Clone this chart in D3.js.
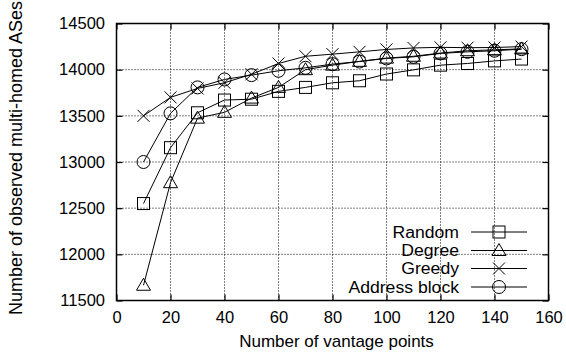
<!DOCTYPE html>
<html>
<head>
<meta charset="utf-8">
<script src="https://cdn.jsdelivr.net/npm/d3@7"></script>
<style>
  html, body { margin: 0; padding: 0; background: #fff; }
  svg { display: block; font-family: "Liberation Sans", Arial, Helvetica, sans-serif; }
</style>
</head>
<body>
<svg id="chart" width="566" height="360"></svg>
<script>
// Vantage point counts (x) and observed multi-homed AS counts per selection strategy
const vantagePoints = [10, 20, 30, 40, 50, 60, 70, 80, 90, 100, 110, 120, 130, 140, 150];
const randomVals  = [12550, 13155, 13533, 13671, 13680, 13765, 13808, 13858, 13880, 13953, 13998, 14049, 14067, 14095, 14115];
const degreeVals  = [11665, 12776, 13475, 13538, 13692, 13808, 14000, 14049, 14090, 14125, 14145, 14180, 14205, 14215, 14225];
const greedyVals  = [13500, 13700, 13797, 13858, 13950, 14067, 14145, 14168, 14193, 14219, 14235, 14242, 14238, 14240, 14250];
const addressVals = [13000, 13527, 13808, 13894, 13941, 13988, 14020, 14060, 14088, 14122, 14139, 14176, 14193, 14205, 14222];

const seriesNames = ["Random", "Degree", "Greedy", "Address block"];
const seriesShapes = ["square", "triangle", "cross", "circle"];
const seriesValues = [randomVals, degreeVals, greedyVals, addressVals];

const xTicks = [0, 20, 40, 60, 80, 100, 120, 140, 160];
const yTicks = [11500, 12000, 12500, 13000, 13500, 14000, 14500];

const svg = d3.select("#chart");
const margin = { left: 116.5, right: 566 - 548.5, top: 23.5, bottom: 360 - 300.5 };
const W = 566, H = 360;

const x = d3.scaleLinear().domain([0, 160]).range([margin.left, W - margin.right]);
const y = d3.scaleLinear().domain([11500, 14500]).range([H - margin.bottom, margin.top]);

const tickFont = 16.5;
const titleFont = 17;
const yTitleFont = 18;
const legendFont = 16;
const legendStretch = 1.1;

// Dotted grid
const grid = svg.append("g");
grid.selectAll("line.gx").data(xTicks.slice(1, -1)).join("line")
  .attr("x1", d => x(d)).attr("x2", d => x(d))
  .attr("y1", y.range()[0]).attr("y2", y.range()[1])
  .attr("stroke", "#000").attr("stroke-width", 1).attr("stroke-dasharray", "1,2");
grid.selectAll("line.gy").data(yTicks.slice(1, -1)).join("line")
  .attr("y1", d => y(d)).attr("y2", d => y(d))
  .attr("x1", x.range()[0]).attr("x2", x.range()[1])
  .attr("stroke", "#000").attr("stroke-width", 1).attr("stroke-dasharray", "1,2");

// Axes with inward ticks, mirrored on top and right
const tickLen = 6;
const bottomAxis = d3.axisBottom(x).tickValues(xTicks).tickSize(-tickLen).tickPadding(11).tickFormat(d3.format("d"));
const topAxis = d3.axisTop(x).tickValues(xTicks).tickSize(-tickLen).tickFormat("");
const leftAxis = d3.axisLeft(y).tickValues(yTicks).tickSize(-tickLen).tickPadding(11.5).tickFormat(d3.format("d"));
const rightAxis = d3.axisRight(y).tickValues(yTicks).tickSize(-tickLen).tickFormat("");

function styleAxis(g) {
  g.select(".domain").remove();
  g.selectAll(".tick line").attr("stroke", "#000").attr("stroke-width", 1.2);
  g.selectAll(".tick text").attr("font-size", tickFont).attr("fill", "#000")
    .attr("font-family", "Liberation Sans, Arial, sans-serif");
}
svg.append("g").attr("transform", `translate(0,${y.range()[0]})`).call(bottomAxis).call(styleAxis);
svg.append("g").attr("transform", `translate(0,${y.range()[1]})`).call(topAxis).call(styleAxis);
svg.append("g").attr("transform", `translate(${x.range()[0]},0)`).call(leftAxis).call(styleAxis);
svg.append("g").attr("transform", `translate(${x.range()[1]},0)`).call(rightAxis).call(styleAxis);

// Plot frame
svg.append("rect")
  .attr("x", x.range()[0]).attr("y", y.range()[1])
  .attr("width", x.range()[1] - x.range()[0]).attr("height", y.range()[0] - y.range()[1])
  .attr("fill", "none").attr("stroke", "#000").attr("stroke-width", 1.5);

// Axis titles
svg.append("text")
  .attr("x", 336.5).attr("y", 346.5)
  .attr("text-anchor", "middle").attr("font-size", titleFont)
  .text("Number of vantage points");
svg.append("text")
  .attr("transform", `translate(22,158) rotate(-90)`)
  .attr("text-anchor", "middle").attr("font-size", yTitleFont)
  .text("Number of observed multi-homed ASes");

// Marker drawing
function drawMarker(g, shape, cx, cy) {
  const s = 6;
  if (shape === "square") {
    g.append("rect").attr("x", cx - s).attr("y", cy - s).attr("width", 2 * s).attr("height", 2 * s)
      .attr("fill", "none").attr("stroke", "#000").attr("stroke-width", 1);
  } else if (shape === "triangle") {
    g.append("path").attr("d", `M${cx},${cy - 7}L${cx + 7},${cy + 5}L${cx - 7},${cy + 5}Z`)
      .attr("fill", "none").attr("stroke", "#000").attr("stroke-width", 1);
  } else if (shape === "cross") {
    g.append("path").attr("d", `M${cx - s},${cy - s}L${cx + s},${cy + s}M${cx - s},${cy + s}L${cx + s},${cy - s}`)
      .attr("fill", "none").attr("stroke", "#000").attr("stroke-width", 1);
  } else {
    g.append("circle").attr("cx", cx).attr("cy", cy).attr("r", 6.5)
      .attr("fill", "none").attr("stroke", "#000").attr("stroke-width", 1);
  }
}

const line = d3.line().x(d => x(d[0])).y(d => y(d[1]));
const plot = svg.append("g");
seriesValues.forEach((vals, i) => {
  const pts = vantagePoints.map((v, j) => [v, vals[j]]);
  plot.append("path").attr("d", line(pts)).attr("fill", "none")
    .attr("stroke", "#000").attr("stroke-width", 1);
  const mg = plot.append("g");
  pts.forEach(p => drawMarker(mg, seriesShapes[i], x(p[0]), y(p[1])));
});

// Legend: text slightly widened horizontally to keep compact row height
const legend = svg.append("g");
const legendRowY = [232, 250.5, 268.5, 287];
seriesNames.forEach((name, i) => {
  const ly = legendRowY[i];
  const t = legend.append("text").attr("x", 459).attr("y", ly + 5.5)
    .attr("text-anchor", "end").attr("font-size", legendFont).text(name);
  const w = t.node().getComputedTextLength();
  t.attr("textLength", w * legendStretch).attr("lengthAdjust", "spacingAndGlyphs");
  legend.append("line").attr("x1", 471).attr("x2", 527).attr("y1", ly).attr("y2", ly)
    .attr("stroke", "#000").attr("stroke-width", 1);
  drawMarker(legend, seriesShapes[i], 499, ly);
});
</script>
</body>
</html>
